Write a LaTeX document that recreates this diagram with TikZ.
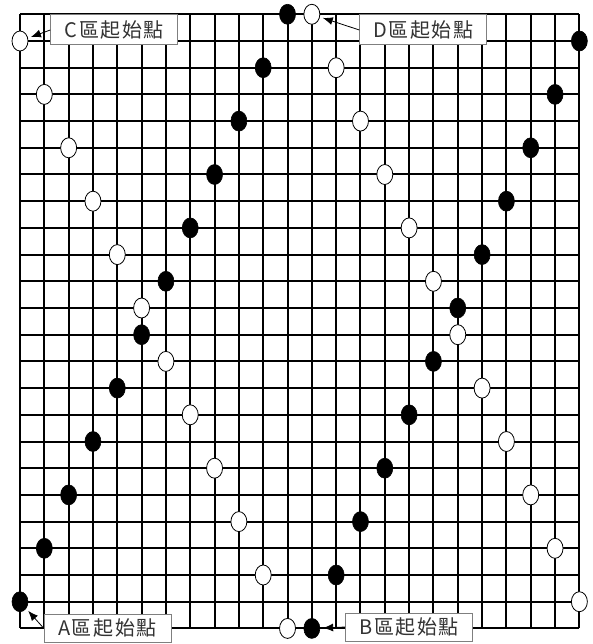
\documentclass[tikz,border=0pt]{standalone}
\usepackage{fontspec}
\newfontfamily\cjk[LetterSpace=8]{Noto Sans CJK TC}
\definecolor{labtext}{HTML}{333333}
\definecolor{labbox}{HTML}{7F7F7F}
\usetikzlibrary{shapes.geometric,arrows.meta}
\tikzset{
  gridline/.style={line width=2pt,black},
  bstone/.style={ellipse,fill=black,draw=black,line width=0.6pt,minimum width=16pt,minimum height=20pt,inner sep=0pt},
  wstone/.style={ellipse,fill=white,draw=black,line width=0.8pt,minimum width=16pt,minimum height=20pt,inner sep=0pt},
  labelbox/.style={draw=labbox,fill=white,line width=1pt,minimum width=127pt,minimum height=30pt,inner sep=0pt,text=labtext,font=\cjk\fontsize{20}{22}\selectfont},
  pointer/.style={-{Latex[length=10pt,width=8pt]},line width=0.8pt,black,shorten >=3pt}
}
\begin{document}
\begin{tikzpicture}[x=1pt,y=-1pt]
\useasboundingbox (0,0) rectangle (592,644);
\def\gx{24.32}
\def\gy{26.7}
\def\ox{20}
\def\oy{14.3}
% grid
\foreach \i in {0,...,23}{
  \draw[gridline] ({\ox+\gx*\i},\oy) -- ({\ox+\gx*\i},{\oy+\gy*23});
  \draw[gridline] (\ox,{\oy+\gy*\i}) -- ({\ox+\gx*23},{\oy+\gy*\i});
}
% stones
\foreach \j in {0,...,23}{
  \pgfmathtruncatemacro{\parity}{mod(\j,2)}
  \ifnum\parity=0
    \pgfmathtruncatemacro{\bi}{11-\j/2}
    \pgfmathtruncatemacro{\wi}{12+\j/2}
  \else
    \pgfmathtruncatemacro{\bi}{23-(\j-1)/2}
    \pgfmathtruncatemacro{\wi}{(\j-1)/2}
  \fi
  \node[bstone] (b\j) at ({\ox+\gx*\bi},{\oy+\gy*\j}) {};
  \node[wstone] (w\j) at ({\ox+\gx*\wi},{\oy+\gy*\j}) {};
}
% labels
\node[labelbox] (cbox) at (114.3,30) {C區起始點};
\node[labelbox] (dbox) at (423.3,30) {D區起始點};
\node[labelbox,minimum height=28pt] (abox) at (107.5,628) {A區起始點};
\node[labelbox,minimum height=28pt] (bbox) at (409.2,627) {B區起始點};
% pointers
\draw[pointer] (cbox.west) -- (w1);
\draw[pointer] (dbox.west) -- (w0);
\draw[pointer] (abox.west) -- (b22);
\draw[pointer] (bbox.west) -- (b23);
\end{tikzpicture}
\end{document}
